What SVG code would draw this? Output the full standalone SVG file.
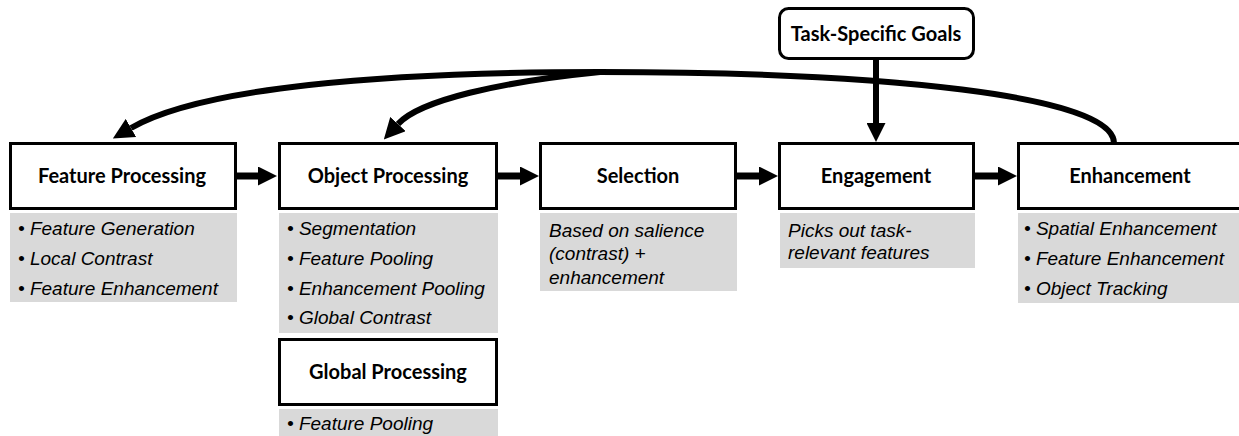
<svg xmlns="http://www.w3.org/2000/svg" width="1239" height="436" viewBox="0 0 1239 436">
<style>
.box{fill:#fff;stroke:#000;stroke-width:3}
.gray{fill:#d9d9d9}
.hd{font-family:Lato,"Open Sans","Liberation Sans",sans-serif;font-weight:bold;font-size:20px;fill:#000;text-anchor:middle}
.it{font-family:"Liberation Sans",Arial,sans-serif;font-style:italic;font-size:19px;fill:#000}
.flow{stroke:#000;stroke-width:7;fill:none}
.curve{stroke:#000;stroke-width:6;fill:none}
</style>
<defs>
<marker id="ah" viewBox="0 0 19 19" refX="0" refY="9.5" markerWidth="19" markerHeight="19" markerUnits="userSpaceOnUse" orient="auto">
<path d="M0,0 L19,9.5 L0,19 z" fill="#000"/>
</marker>
<marker id="ahc" viewBox="0 0 21 21" refX="0" refY="10.5" markerWidth="21" markerHeight="21" markerUnits="userSpaceOnUse" orient="auto">
<path d="M0,0 L21,10.5 L0,21 z" fill="#000"/>
</marker>
</defs>

<g id="feature-processing">
<rect class="gray" x="10" y="213" width="227" height="89"/>
<rect class="box" x="10.5" y="143.5" width="225" height="65"/>
<text class="hd" x="122" y="183">Feature Processing</text>
<text class="it" x="18" y="234.5">• Feature Generation</text>
<text class="it" x="18" y="264.5">• Local Contrast</text>
<text class="it" x="18" y="294.5">• Feature Enhancement</text>
</g>

<g id="object-processing">
<rect class="gray" x="279" y="213" width="219" height="120"/>
<rect class="box" x="279.5" y="143.5" width="217" height="65"/>
<text class="hd" x="388" y="183">Object Processing</text>
<text class="it" x="287" y="234.5">• Segmentation</text>
<text class="it" x="287" y="264.5">• Feature Pooling</text>
<text class="it" x="287" y="294.5">• Enhancement Pooling</text>
<text class="it" x="287" y="323.5">• Global Contrast</text>
</g>

<g id="global-processing">
<rect class="gray" x="279" y="409" width="219" height="27"/>
<rect class="box" x="279.5" y="339.5" width="217" height="65"/>
<text class="hd" x="388" y="379">Global Processing</text>
<text class="it" x="287" y="429.5">• Feature Pooling</text>
</g>

<g id="selection">
<rect class="gray" x="540" y="213" width="197" height="78"/>
<rect class="box" x="540.5" y="143.5" width="195" height="65"/>
<text class="hd" x="638" y="183">Selection</text>
<text class="it" x="549" y="236.5">Based on salience</text>
<text class="it" x="549" y="260">(contrast) +</text>
<text class="it" x="549" y="283.5">enhancement</text>
</g>

<g id="engagement">
<rect class="gray" x="780" y="213" width="195" height="55"/>
<rect class="box" x="779.5" y="143.5" width="194" height="65"/>
<text class="hd" x="876" y="183">Engagement</text>
<text class="it" x="788" y="236.5">Picks out task-</text>
<text class="it" x="788" y="259">relevant features</text>
</g>

<g id="enhancement">
<rect class="gray" x="1018" y="213" width="221" height="90"/>
<rect class="box" x="1018.5" y="143.5" width="226" height="65"/>
<text class="hd" x="1130" y="183">Enhancement</text>
<text class="it" x="1024" y="234.5">• Spatial Enhancement</text>
<text class="it" x="1024" y="264.5">• Feature Enhancement</text>
<text class="it" x="1024" y="294.5">• Object Tracking</text>
</g>

<g id="task-specific-goals">
<rect class="box" x="779.5" y="8.5" width="194" height="50" rx="9" ry="9"/>
<text class="hd" x="876" y="40.5">Task-Specific Goals</text>
</g>

<g id="connectors">
<line class="flow" x1="237" y1="176" x2="258" y2="176" marker-end="url(#ah)"/>
<line class="flow" x1="498" y1="176" x2="520" y2="176" marker-end="url(#ah)"/>
<line class="flow" x1="737" y1="176" x2="759" y2="176" marker-end="url(#ah)"/>
<line class="flow" x1="975" y1="176" x2="998" y2="176" marker-end="url(#ah)"/>
<line x1="876" y1="60" x2="876" y2="123" stroke="#000" stroke-width="6" marker-end="url(#ah)"/>
<path class="curve" d="M1114,143 C1114,95 880,72 600,72 C380,72 200,88 131,128" marker-end="url(#ahc)"/>
<path class="curve" d="M600,72 C500,82 420,100 398,124" marker-end="url(#ahc)"/>
</g>
</svg>
